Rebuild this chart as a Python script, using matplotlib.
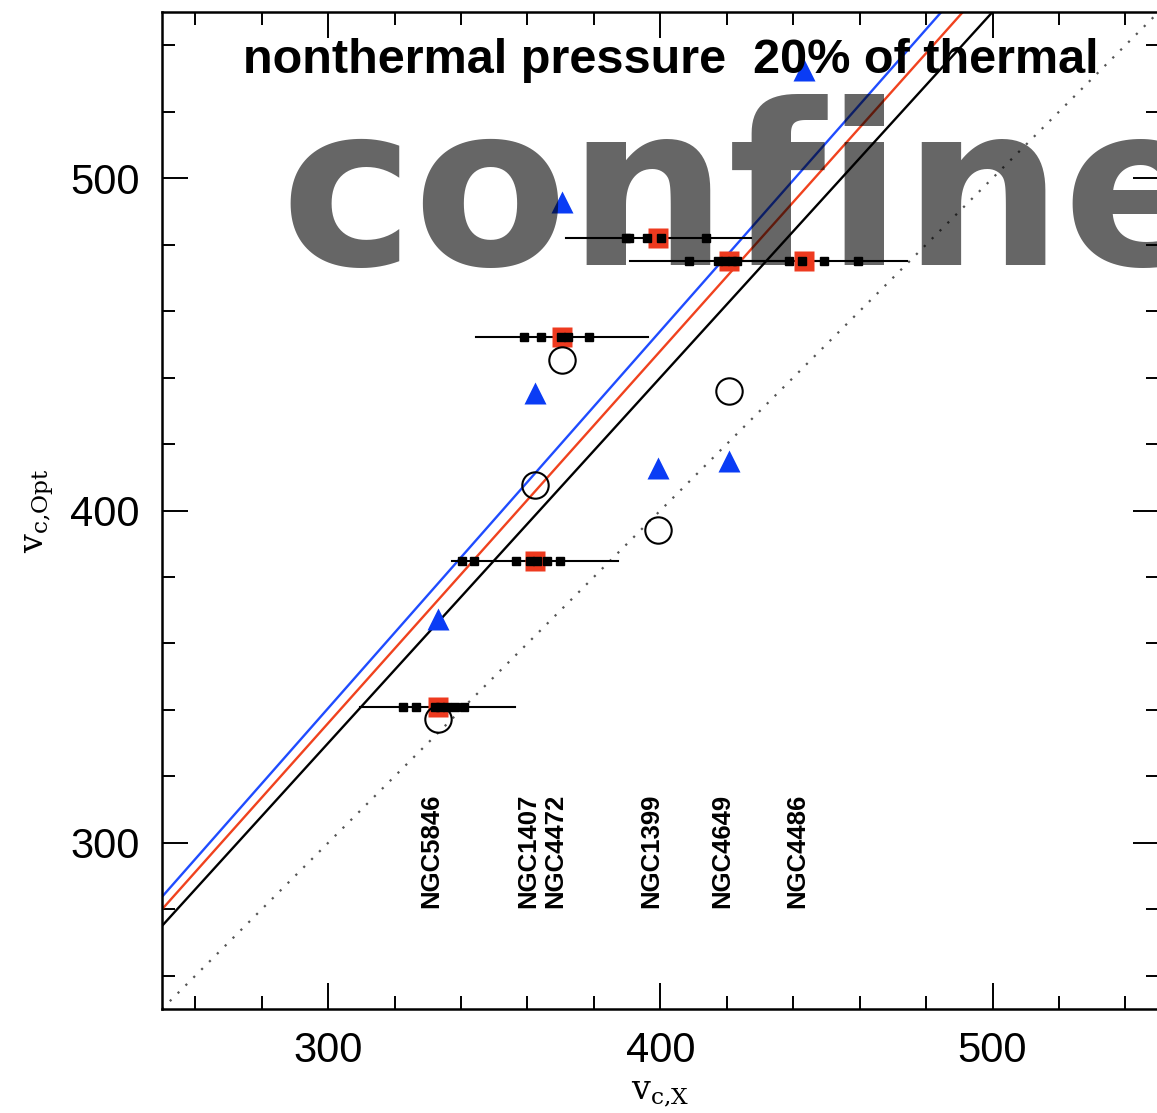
import matplotlib
matplotlib.use("Agg")
import matplotlib.pyplot as plt
from matplotlib.ticker import MultipleLocator
import numpy as np

# galaxies, ordered by X-ray circular velocity
names = ["NGC5846", "NGC1407", "NGC4472", "NGC1399", "NGC4649", "NGC4486"]
vc_x = [333.2, 362.3, 370.5, 399.4, 420.6, 443.2]

# optical circular velocities from the different estimates
v_circle = [337.3, 407.8, 445.2, 394.0, 436.1]          # NGC4486 has none
v_triangle = [367.5, 435.5, 492.8, 412.7, 414.8, 532.5]
v_square = [341.0, 384.7, 452.1, 482.0, 475.0, 475.0]

# horizontal range of the X-ray estimates and the single estimates on it
x_lo = [309.6, 337.2, 344.6, 371.5, 390.9, 425.0]
x_hi = [356.3, 387.4, 396.2, 427.2, 450.0, 474.4]
x_est = [
    [322.7, 326.5, 332.2, 333.7, 335.7, 338.3, 340.8],
    [340.3, 343.8, 356.6, 360.8, 362.8, 365.8, 369.9],
    [358.9, 364.2, 370.0, 372.1, 378.5],
    [389.8, 390.6, 396.0, 400.2, 413.7],
    [408.7, 417.5, 419.6, 421.7, 423.2],
    [438.6, 442.8, 449.4, 459.6],
]

# model lines v_opt = k * v_x
k_blue, k_red, k_black = 1.135, 1.12, 1.10

plt.rcParams['mathtext.fontset'] = 'dejavuserif'

fig = plt.figure(figsize=(11.57, 11.13), dpi=100)
ax = fig.add_axes([0.140, 0.0934, 0.8614, 0.8958])

xx = np.array([250, 550])
ax.plot(xx, xx, ls=(0, (1, 4)), color='#555555', lw=1.6, zorder=1)
ax.plot(xx, k_blue * xx, color='#1f4cff', lw=1.7, zorder=2)
ax.plot(xx, k_red * xx, color='#f0421e', lw=1.7, zorder=2)
ax.plot(xx, k_black * xx, color='black', lw=1.7, zorder=2)

for i in range(len(names)):
    ax.plot([x_lo[i], x_hi[i]], [v_square[i], v_square[i]], color='black', lw=1.5, zorder=3)

ax.plot(vc_x, v_square, 's', color='#ee3a1f', ms=14.5, mec='none', zorder=4)
for i in range(len(names)):
    ax.plot(x_est[i], [v_square[i]] * len(x_est[i]), 's', color='black', ms=6, zorder=5)

ax.plot(vc_x, v_triangle, '^', color='#0a3cf5', ms=16, mec='none', zorder=4)
ax.plot(vc_x[:5], v_circle, 'o', mfc='none', mec='black', mew=1.5, ms=19, zorder=4)

for n, x in zip(names, vc_x):
    ax.text(x - 2, 280.5, n, rotation=90, ha='center', va='bottom',
            fontsize=18.5, weight='bold', family='Liberation Sans', zorder=6)

ax.set_xlim(250, 550)
ax.set_ylim(250, 550)
ax.xaxis.set_major_locator(MultipleLocator(100))
ax.xaxis.set_minor_locator(MultipleLocator(20))
ax.yaxis.set_major_locator(MultipleLocator(100))
ax.yaxis.set_minor_locator(MultipleLocator(20))
ax.tick_params(which='both', direction='in', top=True, right=True, width=1.4)
ax.tick_params(which='major', length=19, pad=16, labelsize=30)
ax.tick_params(which='minor', length=9.5)
for lab in ax.get_xticklabels() + ax.get_yticklabels():
    lab.set_family('Liberation Sans')
for s in ax.spines.values():
    s.set_linewidth(1.8)

ax.set_xlabel(r'v$_{\rm c{,}X}$', fontsize=24, family='DejaVu Serif', labelpad=4)
ax.set_ylabel(r'v$_{\rm c{,}Opt}$', fontsize=24, family='DejaVu Serif', labelpad=10)

fig.text(671 / 1157, 1 - 73 / 1113, "nonthermal pressure  20% of thermal",
         ha='center', va='baseline', fontsize=35, weight='bold', family='Liberation Sans')

fig.text(280 / 1157, 1 - 265 / 1113, "confine", ha='left', va='baseline',
         fontsize=162, weight='bold', family='DejaVu Sans', color='black', alpha=0.6, zorder=10)

fig.savefig("out.png", dpi=100)
